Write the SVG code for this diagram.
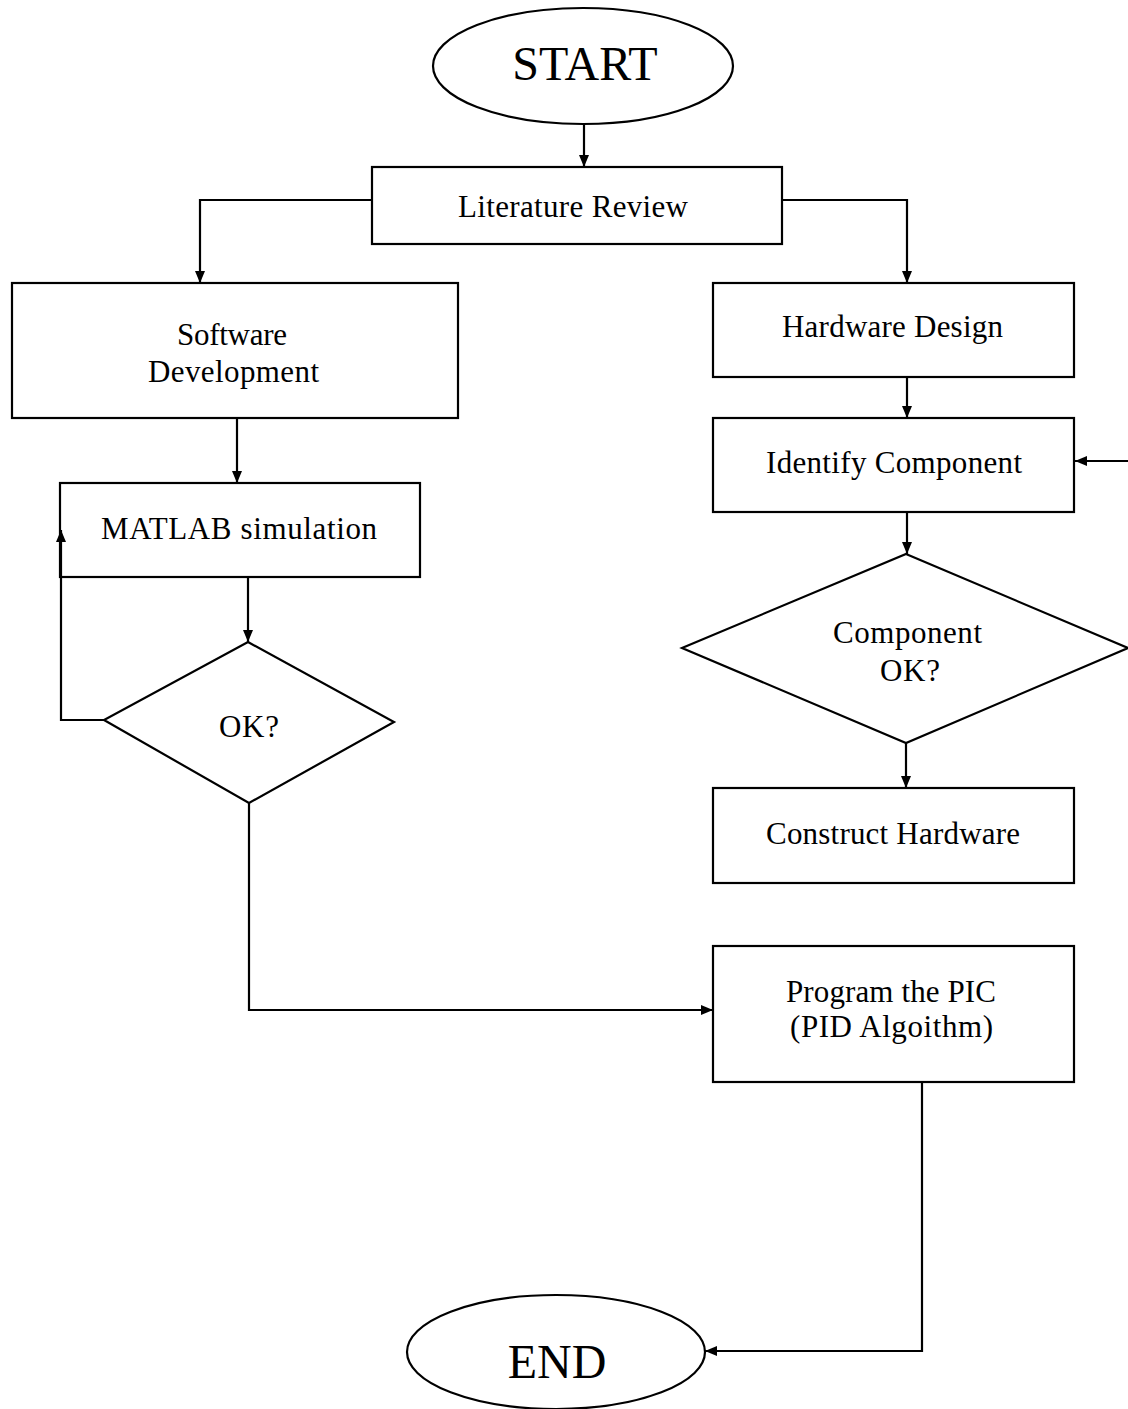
<svg xmlns="http://www.w3.org/2000/svg" width="1128" height="1409" viewBox="0 0 1128 1409">
<style>
.s{fill:#fff;stroke:#000;stroke-width:2.2}
.c{fill:none;stroke:#000;stroke-width:2.2}
text{font-family:"Liberation Serif","Times New Roman",serif;font-size:31px;fill:#000}
.big{font-size:48px}
</style>
<defs>
<marker id="ah" viewBox="0 0 12 10" refX="12" refY="5" markerWidth="12" markerHeight="10" markerUnits="userSpaceOnUse" orient="auto">
<path d="M0,0 L12,5 L0,10 Z" fill="#000"/>
</marker>
</defs>
<rect width="1128" height="1409" fill="#fff"/>
<g id="start">
<ellipse class="s" cx="583" cy="66" rx="150" ry="58"/>
<text class="big" x="585" y="80" text-anchor="middle">START</text>
</g>
<g id="literature">
<rect class="s" x="372" y="167" width="410" height="77"/>
<text x="458" y="217" textLength="230" lengthAdjust="spacing">Literature Review</text>
</g>
<g id="software">
<rect class="s" x="12" y="283" width="446" height="135"/>
<text x="177" y="345" textLength="110" lengthAdjust="spacing">Software</text>
<text x="148" y="382" textLength="171" lengthAdjust="spacing">Development</text>
</g>
<g id="matlab">
<rect class="s" x="60" y="483" width="360" height="94"/>
<text x="101" y="539" textLength="276" lengthAdjust="spacing">MATLAB simulation</text>
</g>
<g id="ok">
<polygon class="s" points="248,642 394,722 249,803 104,720"/>
<text x="219" y="737" textLength="60" lengthAdjust="spacing">OK?</text>
</g>
<g id="hardware">
<rect class="s" x="713" y="283" width="361" height="94"/>
<text x="782" y="337" textLength="221" lengthAdjust="spacing">Hardware Design</text>
</g>
<g id="identify">
<rect class="s" x="713" y="418" width="361" height="94"/>
<text x="766" y="473" textLength="256" lengthAdjust="spacing">Identify Component</text>
</g>
<g id="component-ok">
<polygon class="s" points="906,554 1128,648 906,743 682,648"/>
<text x="833" y="643" textLength="149" lengthAdjust="spacing">Component</text>
<text x="880" y="681" textLength="60" lengthAdjust="spacing">OK?</text>
</g>
<g id="construct">
<rect class="s" x="713" y="788" width="361" height="95"/>
<text x="766" y="844" textLength="254" lengthAdjust="spacing">Construct Hardware</text>
</g>
<g id="program">
<rect class="s" x="713" y="946" width="361" height="136"/>
<text x="786" y="1002" textLength="210" lengthAdjust="spacing">Program the PIC</text>
<text x="790" y="1037" textLength="203" lengthAdjust="spacing">(PID Algoithm)</text>
</g>
<g id="end">
<ellipse class="s" cx="556" cy="1352" rx="149" ry="57"/>
<text class="big" x="557" y="1378" text-anchor="middle">END</text>
</g>
<g id="connectors">
<path class="c" d="M584,124 V167" marker-end="url(#ah)"/>
<path class="c" d="M372,200 H200 V283" marker-end="url(#ah)"/>
<path class="c" d="M782,200 H907 V283" marker-end="url(#ah)"/>
<path class="c" d="M237,418 V483" marker-end="url(#ah)"/>
<path class="c" d="M248,577 V642" marker-end="url(#ah)"/>
<path class="c" d="M104,720 H61 V530" marker-end="url(#ah)"/>
<path class="c" d="M249,803 V1010 H713" marker-end="url(#ah)"/>
<path class="c" d="M907,377 V418" marker-end="url(#ah)"/>
<path class="c" d="M1128,461 H1075" marker-end="url(#ah)"/>
<path class="c" d="M907,512 V554" marker-end="url(#ah)"/>
<path class="c" d="M906,743 V788" marker-end="url(#ah)"/>
<path class="c" d="M922,1082 V1351 H705" marker-end="url(#ah)"/>
</g>
</svg>
